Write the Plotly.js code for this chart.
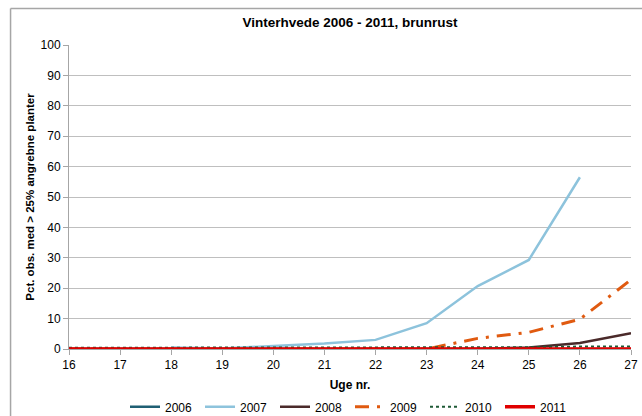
<!DOCTYPE html>
<html>
<head>
<meta charset="utf-8">
<script src="https://cdn.plot.ly/plotly-3.0.1.min.js"></script>
<style>
  body { margin: 0; background: #fff; }
  #plot { width: 642px; height: 416px; }
</style>
</head>
<body>
<div id="plot"></div>
<script>
// uge numre
var weeks = [16, 17, 18, 19, 20, 21, 22, 23, 24, 25, 26, 27];
var weeks2007 = [18, 19, 20, 21, 22, 23, 24, 25, 26];

// pct. obs. med > 25% angrebne planter
var y2006 = [0, 0, 0, 0, 0, 0, 0, 0, 0, 0, 0, 0];
var y2007 = [0.5, 0.2, 1, 1.8, 3, 8.5, 20.7, 29.3, 56.5];
var y2008 = [0, 0, 0, 0, 0, 0, 0, 0, 0, 0.5, 2, 5.2];
var y2009 = [0, 0, 0, 0, 0, 0, 0, 0, 3.5, 5.5, 9.8, 22.8];
var y2010 = [0.4, 0.4, 0.4, 0.4, 0.4, 0.4, 0.4, 0.4, 0.4, 0.6, 0.8, 0.8];
var y2011 = [0, 0, 0, 0, 0, 0, 0, 0, 0, 0, 0, 0];

var trace2006 = {
  x: weeks, y: y2006, type: "scatter", mode: "lines", name: "2006",
  line: { color: "#1f5f73", width: 2.5 }
};
var trace2007 = {
  x: weeks2007, y: y2007, type: "scatter", mode: "lines", name: "2007",
  line: { color: "#8dc3dc", width: 2.5 }
};
var trace2008 = {
  x: weeks, y: y2008, type: "scatter", mode: "lines", name: "2008",
  line: { color: "#4a2a2a", width: 2.5 }
};
var trace2009 = {
  x: weeks, y: y2009, type: "scatter", mode: "lines", name: "2009",
  line: { color: "#e05a10", width: 3, dash: "14px,8px,3px,8px" }
};
var trace2010 = {
  x: weeks, y: y2010, type: "scatter", mode: "lines", name: "2010",
  line: { color: "#1e5a36", width: 2, dash: "dot" }
};
var trace2011 = {
  x: weeks, y: y2011, type: "scatter", mode: "lines", name: "2011",
  line: { color: "#e00000", width: 3.5 }
};

var data = [trace2006, trace2007, trace2008, trace2009, trace2010, trace2011];

var layout = {
  width: 642,
  height: 416,
  margin: { l: 69, r: 11, t: 45, b: 67 },
  paper_bgcolor: "#ffffff",
  plot_bgcolor: "#ffffff",
  font: { family: "Liberation Sans, Arial, sans-serif", size: 12, color: "#000" },
  title: {
    text: "<b>Vinterhvede 2006 - 2011, brunrust</b>",
    font: { size: 13.5 },
    xref: "paper", x: 0.5, xanchor: "center", y: 0.947, yanchor: "middle"
  },
  xaxis: {
    range: [16, 27],
    tickvals: weeks,
    ticks: "outside", ticklen: 5, tickcolor: "#a6a6a6",
    showline: true, linecolor: "#a6a6a6", linewidth: 1,
    showgrid: false, zeroline: false,
    tickfont: { size: 12 },
    title: { text: "<b>Uge nr.</b>", font: { size: 12 }, standoff: 10 }
  },
  yaxis: {
    range: [0, 100],
    dtick: 10,
    ticks: "outside", ticklen: 5, tickcolor: "#a6a6a6",
    showline: true, linecolor: "#a6a6a6", linewidth: 1,
    gridcolor: "#bfbfbf", gridwidth: 1, zeroline: false,
    tickfont: { size: 12 },
    title: { text: "<b>Pct. obs. med > 25% angrebne planter</b>", font: { size: 11.5 }, standoff: 3 }
  },
  showlegend: true,
  legend: {
    orientation: "h",
    xref: "paper", x: 0.5, xanchor: "center",
    yref: "container", y: 0.022, yanchor: "middle",
    font: { size: 12 },
    entrywidth: 30,
    itemwidth: 30,
    tracegroupgap: 0
  },
  shapes: [
    { type: "line", xref: "paper", yref: "paper", x0: -0.104, x1: 1.03, y0: 1.12, y1: 1.12,
      line: { color: "#a6a6a6", width: 1.5 } },
    { type: "line", xref: "paper", yref: "paper", x0: -0.104, x1: -0.104, y0: 1.12, y1: -0.23,
      line: { color: "#a6a6a6", width: 1.5 } }
  ]
};

Plotly.newPlot("plot", data, layout, { displayModeBar: false, staticPlot: true });
</script>
</body>
</html>
